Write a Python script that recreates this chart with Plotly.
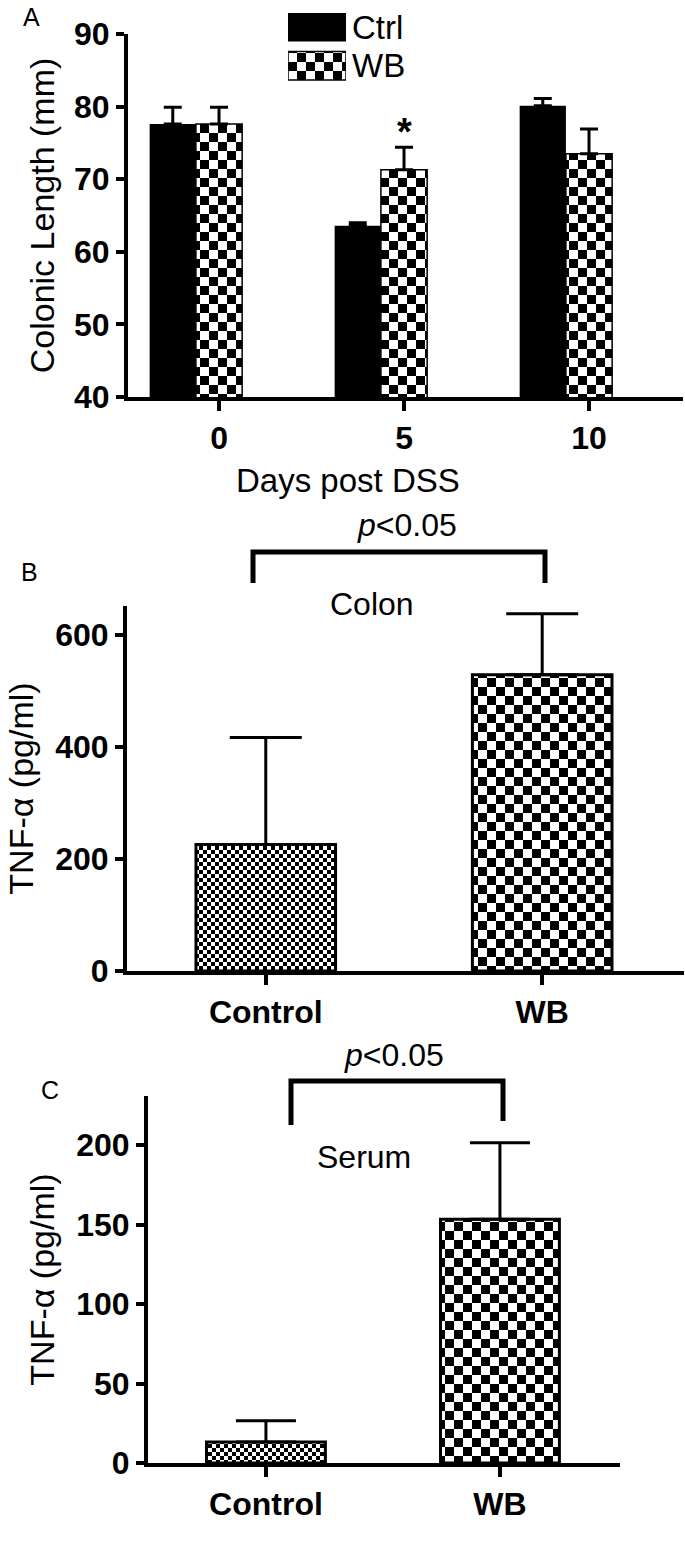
import plotly.graph_objects as go

# Panel A: colonic length (mm) by day after DSS
days = [0, 5, 10]
ctrl_len = [77.6, 63.6, 80.1]
ctrl_len_sem = [2.3, 0.4, 1.0]
wb_len = [77.6, 71.3, 73.5]
wb_len_sem = [2.3, 3.1, 3.4]

# Panels B and C: TNF-alpha (pg/ml)
groups = ['Control', 'WB']
colon_tnf = [226, 529]
colon_tnf_sem = [191, 109]
serum_tnf = [13.2, 153.5]
serum_tnf_sem = [13.4, 48]

legend_items = ['Ctrl', 'WB']

W, H = 685, 1544
FONT = 'Arial, Liberation Sans, Helvetica, sans-serif'


def px(x):
    return x / W


def py(y):
    return 1 - y / H


def err(vals, width):
    return dict(type='data', array=vals, arrayminus=[0] * len(vals),
                symmetric=False, color='black', thickness=3, width=width)


def checker(size):
    # the tiles get turned into a checkerboard by the post script below
    return dict(shape='+', size=size, fgcolor='black', bgcolor='white', solidity=0.5)


fig = go.Figure()

# A
fig.add_trace(go.Bar(x=days, y=ctrl_len, width=1.25, offset=-1.875,
                     marker=dict(color='black', line=dict(width=0)),
                     error_y=err(ctrl_len_sem, 9), xaxis='x', yaxis='y'))
fig.add_trace(go.Bar(x=days, y=wb_len, width=1.25, offset=-0.625,
                     marker=dict(color='white', line=dict(color='black', width=1.5),
                                 pattern=checker(18)),
                     error_y=err(wb_len_sem, 9), xaxis='x', yaxis='y'))

# B
fig.add_trace(go.Bar(x=groups, y=colon_tnf, width=0.505,
                     marker=dict(color='white', line=dict(color='black', width=3),
                                 pattern=checker(8)),
                     error_y=err(colon_tnf_sem, 36), xaxis='x2', yaxis='y2'))
fig.data[-1].marker.pattern.size = [8, 18]

# C
fig.add_trace(go.Bar(x=groups, y=serum_tnf, width=0.508,
                     marker=dict(color='white', line=dict(color='black', width=3),
                                 pattern=checker(8)),
                     error_y=err(serum_tnf_sem, 30), xaxis='x3', yaxis='y3'))
fig.data[-1].marker.pattern.size = [8, 18]

# legend swatches for A
fig.add_trace(go.Bar(x=[1], y=[legend_items[0]], orientation='h', width=0.74,
                     marker=dict(color='black', line=dict(width=0)),
                     xaxis='x4', yaxis='y4'))
fig.add_trace(go.Bar(x=[1], y=[legend_items[1]], orientation='h', width=0.74,
                     marker=dict(color='white', line=dict(color='black', width=1.5),
                                 pattern=checker(18)),
                     xaxis='x4', yaxis='y4'))

axis_style = dict(showline=True, linewidth=4, linecolor='black', ticks='outside',
                  tickwidth=4, tickcolor='black', showgrid=False, zeroline=False,
                  tickfont=dict(family=FONT, size=32, color='black', weight='bold'),
                  title_font=dict(family=FONT, size=34, color='black'),
                  automargin=False)

fig.update_layout(
    width=W, height=H,
    margin=dict(l=0, r=0, t=0, b=0),
    paper_bgcolor='white', plot_bgcolor='white',
    showlegend=False, barmode='overlay',
    font=dict(family=FONT, color='black'),
    xaxis=dict(axis_style, domain=[px(128), px(683)], range=[-2.46, 12.54],
               tickvals=days, ticklen=10, anchor='y'),
    yaxis=dict(axis_style, domain=[py(397), py(34)], range=[40, 90], dtick=10,
               ticklen=8, anchor='x',
               title=dict(text='Colonic Length (mm)', standoff=10)),
    xaxis2=dict(axis_style, domain=[px(127), px(684)], range=[-0.502, 1.513],
                ticklen=10, anchor='y2'),
    yaxis2=dict(axis_style, domain=[py(971), py(606)], range=[0, 652],
                tickvals=[0, 200, 400, 600], ticklen=8, anchor='x2',
                title=dict(text='TNF-α (pg/ml)', standoff=12)),
    xaxis3=dict(axis_style, domain=[px(148), px(620)], range=[-0.504, 1.513],
                ticklen=10, anchor='y3'),
    yaxis3=dict(axis_style, domain=[py(1463), py(1096)], range=[0, 231],
                dtick=50, ticklen=8, anchor='x3',
                title=dict(text='TNF-α (pg/ml)', standoff=12)),
    xaxis4=dict(domain=[px(288), px(346)], range=[0, 1], visible=False, anchor='y4'),
    yaxis4=dict(domain=[py(85), py(8)], range=[-0.5, 1.5], anchor='x4',
                categoryorder='array', categoryarray=legend_items[::-1],
                visible=False),
)

txt = dict(family=FONT, color='black')

# legend labels next to the swatches
for name in legend_items:
    fig.add_annotation(text=name, x=1, y=name, xref='x4', yref='y4',
                       xanchor='left', yanchor='middle', xshift=4, showarrow=False,
                       font=dict(txt, size=33))

notes = [
    ('A', 31, 17, 25),
    ('B', 29, 572, 25),
    ('C', 50, 1090, 25),
    ('Days post DSS', 348, 480, 33),
    ('<i>p</i>&lt;0.05', 407, 525, 32),
    ('Colon', 372, 604, 32),
    ('<i>p</i>&lt;0.05', 394, 1055, 32),
    ('Serum', 364, 1157, 32),
]
for text, x, y, size in notes:
    fig.add_annotation(text=text, x=px(x), y=py(y), xref='paper', yref='paper',
                       showarrow=False, xanchor='center', yanchor='middle',
                       font=dict(txt, size=size))

# significance star over WB at day 5
fig.add_annotation(text='*', x=days[1], y=wb_len[1] + wb_len_sem[1],
                   xref='x', yref='y', showarrow=False, yanchor='bottom', yshift=-8,
                   font=dict(txt, size=38, weight='bold'))

# brackets
for x0, x1, ytop, yl, yr in [(253, 545, 552, 583, 583), (291, 503, 1081, 1125, 1121)]:
    fig.add_shape(type='path', xref='paper', yref='paper',
                  path=f'M {px(x0)},{py(yl)} L {px(x0)},{py(ytop)} '
                       f'L {px(x1)},{py(ytop)} L {px(x1)},{py(yr)}',
                  line=dict(color='black', width=5))

post = """
document.body.style.margin = '0';
document.querySelectorAll('pattern').forEach(function(p) {
  var s = parseFloat(p.getAttribute('width'));
  var h = s / 2;
  p.innerHTML = '<rect width="' + s + '" height="' + s + '" fill="white"/>' +
    '<rect width="' + h + '" height="' + h + '" fill="black"/>' +
    '<rect x="' + h + '" y="' + h + '" width="' + h + '" height="' + h + '" fill="black"/>';
});
"""

fig.write_html("out.html", post_script=post, config={'displayModeBar': False})
